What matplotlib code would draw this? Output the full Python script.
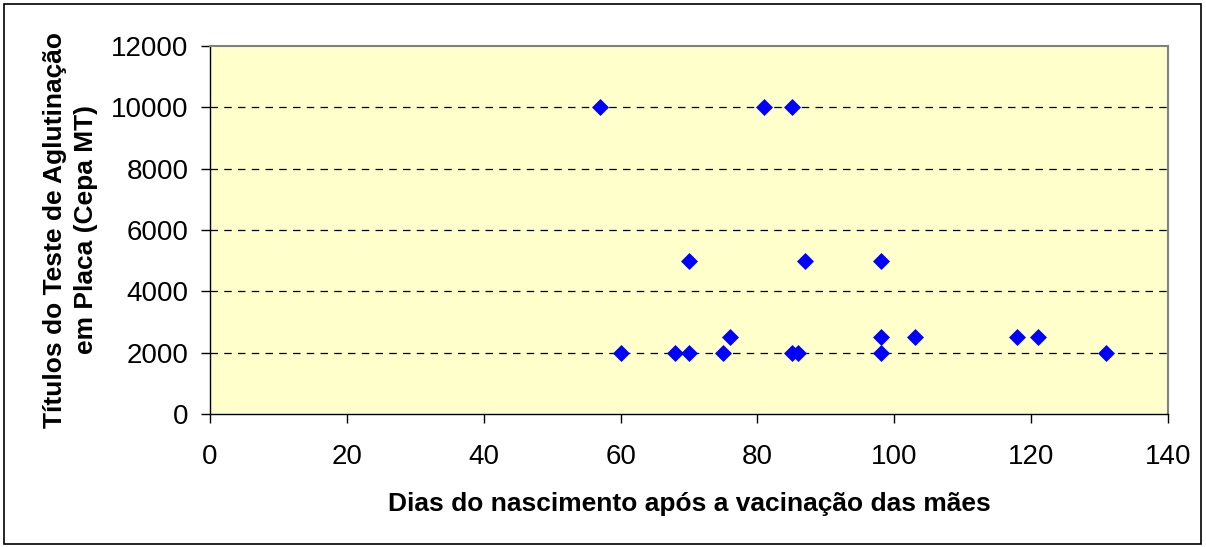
import matplotlib
matplotlib.use("Agg")
import matplotlib.pyplot as plt
from matplotlib.patches import Rectangle

dias = [57, 81, 85, 70, 87, 98, 76, 98, 60, 68, 70, 75, 85, 86, 98, 103, 118, 121, 131]
titulos = [10000, 10000, 10000, 5000, 5000, 5000, 2500, 2500, 2000, 2000, 2000, 2000, 2000, 2000, 2000, 2500, 2500, 2500, 2000]
yticks = [0, 2000, 4000, 6000, 8000, 10000, 12000]
xticks = [0, 20, 40, 60, 80, 100, 120, 140]

plt.rcParams['font.family'] = ['Liberation Sans', 'DejaVu Sans']

fig = plt.figure(figsize=(12.06, 5.47), dpi=100)
fig.patches.append(Rectangle((4/1206, 3/547), 1197/1206, 540/547, transform=fig.transFigure,
                             fill=False, edgecolor='black', linewidth=1.2))
ax = fig.add_axes([210/1206, 1-414/547, 958/1206, 368/547])
ax.set_facecolor('#FFFFCC')
ax.scatter(dias, titulos, marker='D', s=75, color='#0000FF', zorder=3, linewidths=0)
ax.set_xlim(0, 140)
ax.set_ylim(0, 12000)
ax.set_xticks(xticks)
ax.set_yticks(yticks)
for yv in yticks[1:-1]:
    ax.axhline(yv, color='black', linestyle=(0, (6, 5)), linewidth=0.9, zorder=1)
ax.tick_params(axis='both', labelsize=20, direction='out', length=6.5, width=1)
ax.tick_params(axis='x', pad=15)
ax.tick_params(axis='y', pad=9)
for s in ['top', 'right']:
    ax.spines[s].set_color('#808080')
    ax.spines[s].set_linewidth(1.5)
for s in ['left', 'bottom']:
    ax.spines[s].set_color('black')
    ax.spines[s].set_linewidth(1)
ax.set_xlabel('Dias do nascimento após a vacinação das mães', fontsize=19, fontweight='bold', labelpad=16)
ax.set_ylabel('Títulos do Teste de Aglutinação\nem Placa (Cepa MT)', fontsize=19, fontweight='bold', labelpad=9, linespacing=1.4)
fig.savefig('out.png', dpi=100)
